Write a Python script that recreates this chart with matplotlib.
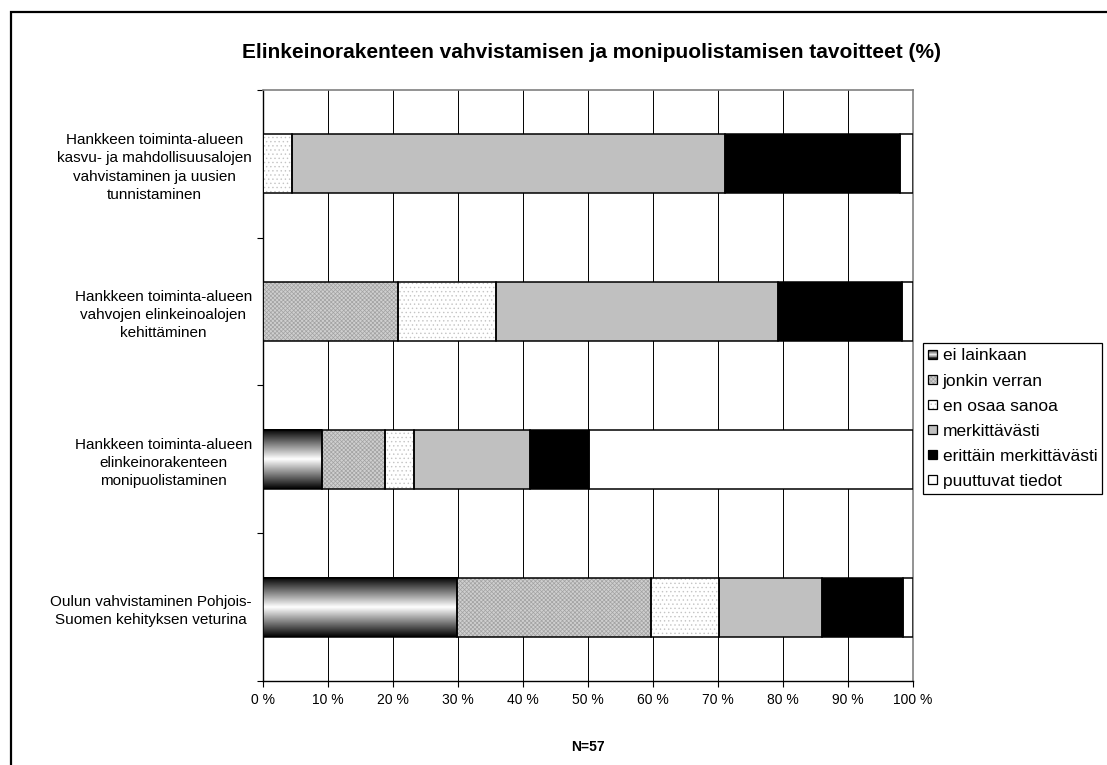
import numpy as np
import matplotlib
matplotlib.use("Agg")
import matplotlib.pyplot as plt
from matplotlib.patches import Rectangle
from matplotlib.legend_handler import HandlerBase

plt.rcParams['font.family'] = ['Liberation Sans', 'DejaVu Sans']
plt.rcParams['hatch.linewidth'] = 0.5

categories = [
    "Hankkeen toiminta-alueen\nkasvu- ja mahdollisuusalojen\nvahvistaminen ja uusien\ntunnistaminen",
    "Hankkeen toiminta-alueen\nvahvojen elinkeinoalojen\nkehittäminen",
    "Hankkeen toiminta-alueen\nelinkeinorakenteen\nmonipuolistaminen",
    "Oulun vahvistaminen Pohjois-\nSuomen kehityksen veturina",
]
series_names = ["ei lainkaan", "jonkin verran", "en osaa sanoa",
                "merkittävästi", "erittäin merkittävästi", "puuttuvat tiedot"]
ei_lainkaan = [0.0, 0.0, 9.0, 29.9]
jonkin_verran = [0.0, 20.8, 9.8, 29.8]
en_osaa_sanoa = [4.5, 15.1, 4.5, 10.4]
merkittavasti = [66.5, 43.4, 17.8, 15.9]
erittain = [27.0, 19.0, 9.0, 12.4]
puuttuvat = [2.0, 1.7, 49.9, 1.6]
xticks = [0, 10, 20, 30, 40, 50, 60, 70, 80, 90, 100]
xticklabels = [f"{v} %" for v in xticks]
title = "Elinkeinorakenteen vahvistamisen ja monipuolistamisen tavoitteet (%)"
note = "N=57"

values = [ei_lainkaan, jonkin_verran, en_osaa_sanoa, merkittavasti, erittain, puuttuvat]
# style per series: (facecolor, hatch, hatchcolor)
styles = [
    ("gradient", None, None),
    ("#cfcfcf", "xxxxxxxx", "#a2a2a2"),
    ("white", "....", "#c4c4c4"),
    ("#c0c0c0", None, None),
    ("black", None, None),
    ("white", None, None),
]

W, H = 1107, 765
fig = plt.figure(figsize=(W / 100, H / 100), dpi=100)
ax = fig.add_axes([263 / W, 1 - 681 / H, (913 - 263) / W, (681 - 90) / H])

y = np.arange(len(categories))
bar_h = 0.4
left = np.zeros(len(categories))
grad = np.abs(np.linspace(-1, 1, 200))[:, None]
for vals, (fc, hatch, hc) in zip(values, styles):
    vals = np.asarray(vals)
    if fc == "gradient":
        for yi, l, v in zip(y, left, vals):
            if v > 0:
                ax.imshow(grad, cmap="gray_r", vmin=0, vmax=1, aspect="auto",
                          extent=[l, l + v, yi + bar_h / 2, yi - bar_h / 2],
                          interpolation="bilinear", zorder=3)
    else:
        if hatch:
            ax.barh(y, vals, bar_h, left=left, color=fc, hatch=hatch,
                    edgecolor=hc, linewidth=0, zorder=3)
        else:
            ax.barh(y, vals, bar_h, left=left, color=fc, linewidth=0, zorder=3)
    ax.barh(y, vals, bar_h, left=left, facecolor="none", edgecolor="black",
            linewidth=1.1, zorder=4)
    left = left + vals

ax.set_xlim(0, 100)
ax.set_ylim(len(categories) - 0.5, -0.5)
ax.set_xticks(xticks)
ax.set_xticklabels(xticklabels, fontsize=10)
ax.set_yticks(y)
ax.set_yticklabels(categories, fontsize=11)
for lab in ax.get_yticklabels():
    lab.set_multialignment("center")
    lab.set_linespacing(1.38)
ax.set_yticks(np.arange(len(categories) + 1) - 0.5, minor=True)
ax.tick_params(axis="y", which="major", length=0, pad=8)
ax.tick_params(axis="y", which="minor", length=4, direction="out", width=0.8)
ax.tick_params(axis="x", length=4, direction="out", width=0.8, pad=5)
ax.xaxis.grid(True, color="black", linewidth=0.7, zorder=1)
ax.set_axisbelow(True)
for s in ["top", "right"]:
    ax.spines[s].set_color("#808080")
    ax.spines[s].set_linewidth(1.2)
for s in ["left", "bottom"]:
    ax.spines[s].set_color("black")
    ax.spines[s].set_linewidth(1.0)

fig.text(591 / W, 1 - 52 / H, title, ha="center", va="center",
         fontsize=15, fontweight="bold")
fig.text(588 / W, 1 - 747 / H, note, ha="center", va="center",
         fontsize=10, fontweight="bold")

# outer frame
fig.patches.append(Rectangle((11 / W, -0.05), 1.2, 1 - 12 / H + 0.05,
                             transform=fig.transFigure, facecolor="none",
                             edgecolor="black", linewidth=1.6, clip_on=False))


class Swatch:
    def __init__(self, fc, hatch, hc):
        self.fc, self.hatch, self.hc = fc, hatch, hc


class HandlerSwatch(HandlerBase):
    def create_artists(self, legend, h, xd, yd, width, height, fontsize, trans):
        s = min(width, height)
        x0 = -xd + (width - s) / 2
        y0 = -yd + (height - s) / 2
        arts = []
        if h.fc == "gradient":
            n = 12
            for i in range(n):
                t = (i + 0.5) / n
                v = 1 - abs(2 * t - 1)
                arts.append(Rectangle((x0, y0 + i * s / n), s, s / n,
                                      facecolor=str(v), edgecolor="none",
                                      transform=trans))
        elif h.hatch:
            arts.append(Rectangle((x0, y0), s, s, facecolor=h.fc, hatch=h.hatch,
                                  edgecolor=h.hc, linewidth=0, transform=trans))
        else:
            arts.append(Rectangle((x0, y0), s, s, facecolor=h.fc,
                                  edgecolor="none", transform=trans))
        arts.append(Rectangle((x0, y0), s, s, facecolor="none",
                              edgecolor="black", linewidth=0.9, transform=trans))
        return arts


handles = [Swatch(*st) for st in styles]
leg = fig.legend(handles, series_names, loc="lower left",
                 bbox_to_anchor=(922.7 / W, 1 - 494 / H),
                 bbox_transform=fig.transFigure, borderaxespad=0,
                 handler_map={Swatch: HandlerSwatch()}, fontsize=12.5,
                 handlelength=0.55, handleheight=0.55, handletextpad=0.3,
                 labelspacing=0.58, borderpad=0.3, fancybox=False,
                 frameon=True, edgecolor="black", framealpha=1)
leg.get_frame().set_linewidth(0.9)

fig.savefig("out.png", dpi=100)
